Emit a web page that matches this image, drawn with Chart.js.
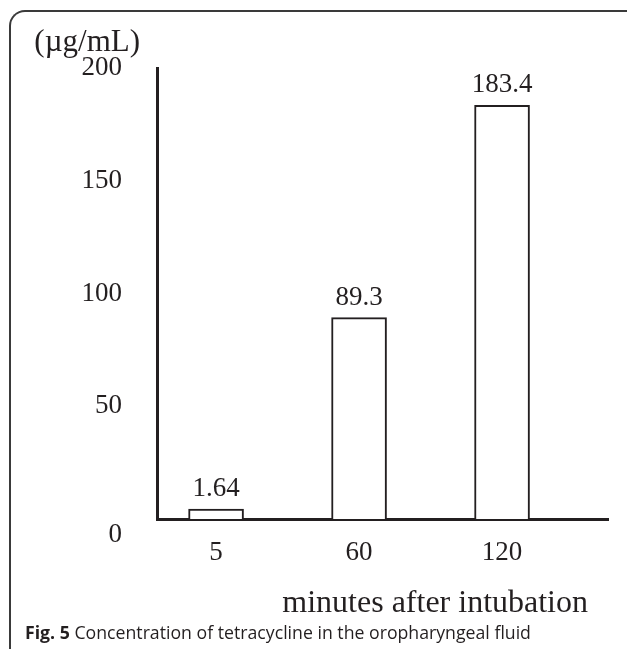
<!DOCTYPE html>
<html>
<head>
<meta charset="utf-8">
<script src="https://cdn.jsdelivr.net/npm/chart.js@4/dist/chart.umd.min.js"></script>
<style>
  html, body { margin: 0; padding: 0; background: #fff; }
  body { width: 627px; height: 649px; position: relative; overflow: hidden; }
  #frame {
    position: absolute; left: 9px; top: 10px; width: 700px; height: 700px;
    border-top: 2px solid #3a3a3a; border-left: 2px solid #3a3a3a;
    border-top-left-radius: 16px;
  }
  #chart { position: absolute; left: 0; top: 0; }
  #caption {
    position: absolute; left: 25px; top: 620px;
    font-family: "Open Sans", sans-serif; font-size: 17.7px; color: #231f20;
    white-space: nowrap;
  }
</style>
</head>
<body>
<div id="frame"></div>
<canvas id="chart" width="627" height="649"></canvas>
<div id="caption"><b>Fig. 5</b> Concentration of tetracycline in the oropharyngeal fluid</div>
<script>
const times = ['5', '60', '120'];          // minutes after intubation
const concentration = [1.64, 89.3, 183.4]; // µg/mL
const yTicks = [0, 50, 100, 150, 200];

const ink = '#231f20';
const serif = '"Liberation Serif", "Times New Roman", serif';

// value labels above bars + axis texts
const chartText = {
    id: 'chartText',
    afterDatasetsDraw(chart) {
        const ctx = chart.ctx;
        const area = chart.chartArea;
        const bars = chart.getDatasetMeta(0).data;
        ctx.save();
        ctx.fillStyle = ink;
        ctx.textBaseline = 'alphabetic';
        ctx.textAlign = 'center';
        ctx.font = '27px ' + serif;
        bars.forEach((bar, i) => {
            ctx.fillText(String(concentration[i]), bar.x, bar.y - 13);
        });
        ctx.textAlign = 'right';
        ctx.font = '31px ' + serif;
        ctx.fillText('(µg/mL)', area.left - 17, area.top - 17);
        ctx.font = '32px ' + serif;
        ctx.fillText('minutes after intubation', area.right - 20, area.bottom + 93);
        ctx.restore();
    }
};

new Chart(document.getElementById('chart'), {
    type: 'bar',
    data: {
        datasets: [{
            data: concentration.map((v, i) => ({ x: i, y: v })),
            backgroundColor: '#ffffff',
            borderColor: ink,
            borderWidth: 2,
            borderSkipped: 'bottom',
            barThickness: 55,
            minBarLength: 10
        }]
    },
    options: {
        responsive: false,
        animation: false,
        layout: { padding: { top: 68, right: 19, bottom: 0, left: 0 } },
        plugins: {
            legend: { display: false },
            tooltip: { enabled: false }
        },
        scales: {
            x: {
                type: 'linear',
                offset: false,
                min: -0.413,
                max: 2.741,
                afterBuildTicks: scale => {
                    scale.ticks = times.map((t, i) => ({ value: i }));
                },
                afterFit: scale => { scale.height = 130; },
                grid: { display: false, offset: false },
                border: { display: true, color: ink, width: 3 },
                ticks: {
                    padding: 10,
                    color: ink,
                    font: { family: serif, size: 27 },
                    callback: value => times[value] ?? ''
                }
            },
            y: {
                min: 0,
                max: 200,
                afterBuildTicks: scale => {
                    scale.ticks = yTicks.map(v => ({ value: v }));
                },
                afterFit: scale => { scale.width = 157; },
                grid: { display: false },
                border: { display: true, color: ink, width: 3 },
                ticks: {
                    padding: 27,
                    color: ink,
                    font: { family: serif, size: 27 },
                    callback: value => value === 0 ? ['', '0'] : String(value)
                }
            }
        }
    },
    plugins: [chartText]
});
</script>
</body>
</html>
